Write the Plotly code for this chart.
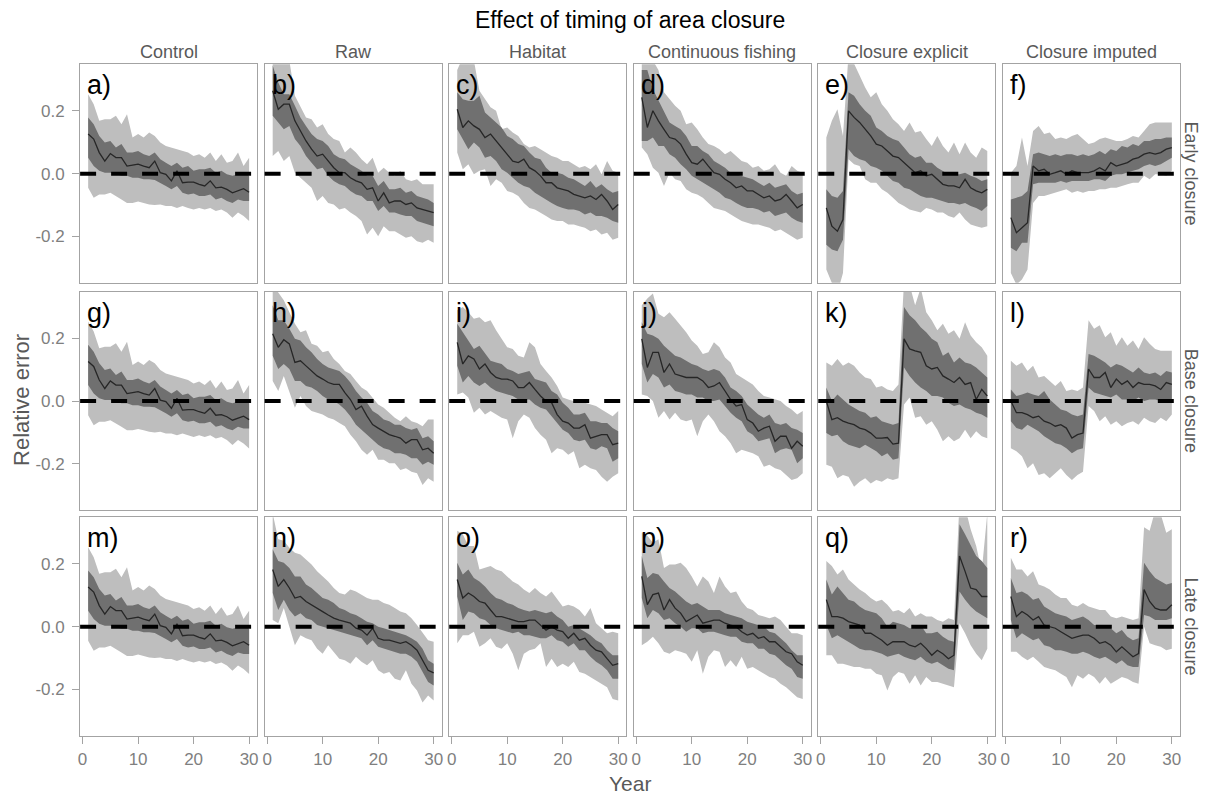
import plotly.graph_objects as go

YEARS = list(range(1, 31))
COLUMNS = ["Control", "Raw", "Habitat", "Continuous fishing", "Closure explicit", "Closure imputed"]
ROWS = ["Early closure", "Base closure", "Late closure"]
LETTERS = list("abcdefghijklmnopqr")
Y_TICKVALS = [-0.2, 0.0, 0.2]
Y_TICKTEXT = ["-0.2", "0.0", "0.2"]
X_TICKVALS = [0, 10, 20, 30]
X_TICKTEXT = ["0", "10", "20", "30"]

# ---------------- Control (identical in all three timings) ----------------
a_med = [0.126,0.110,0.067,0.040,0.064,0.051,0.051,0.024,0.027,0.030,0.024,0.019,0.040,0.003,-0.002,-0.023,0.009,-0.029,-0.027,-0.027,-0.034,-0.039,-0.023,-0.045,-0.043,-0.050,-0.061,-0.055,-0.048,-0.059]
a_in_hi = [0.179,0.157,0.120,0.099,0.104,0.083,0.094,0.067,0.067,0.072,0.062,0.056,0.067,0.046,0.035,0.024,0.035,0.019,0.024,0.009,0.014,0.014,0.019,0.003,0.009,-0.002,-0.007,-0.002,0.003,-0.007]
a_in_lo = [0.051,0.024,0.009,0.003,0.003,-0.002,-0.007,-0.007,-0.013,-0.013,-0.018,-0.018,-0.020,-0.029,-0.039,-0.050,-0.039,-0.061,-0.066,-0.063,-0.071,-0.071,-0.066,-0.082,-0.077,-0.087,-0.093,-0.082,-0.087,-0.087]
a_out_hi = [0.253,0.221,0.168,0.173,0.173,0.184,0.157,0.189,0.115,0.126,0.115,0.131,0.120,0.099,0.088,0.083,0.078,0.072,0.067,0.056,0.062,0.051,0.067,0.040,0.062,0.035,0.040,0.067,0.024,0.051]
a_out_lo = [-0.045,-0.077,-0.066,-0.066,-0.061,-0.071,-0.082,-0.093,-0.093,-0.089,-0.093,-0.098,-0.100,-0.098,-0.103,-0.103,-0.109,-0.103,-0.109,-0.114,-0.109,-0.114,-0.109,-0.119,-0.114,-0.124,-0.140,-0.124,-0.135,-0.151]

# ---------------- Early closure ----------------
b_med = [0.264,0.205,0.221,0.221,0.168,0.136,0.104,0.078,0.056,0.062,0.040,0.019,0.003,0.003,-0.013,-0.023,-0.029,-0.050,-0.045,-0.087,-0.061,-0.093,-0.087,-0.087,-0.098,-0.093,-0.109,-0.114,-0.119,-0.124]
b_in_hi = [0.344,0.290,0.253,0.253,0.216,0.179,0.152,0.126,0.110,0.104,0.088,0.062,0.051,0.046,0.030,0.019,0.009,-0.007,-0.007,-0.039,-0.023,-0.050,-0.050,-0.045,-0.061,-0.055,-0.071,-0.077,-0.082,-0.093]
b_in_lo = [0.184,0.163,0.141,0.152,0.110,0.088,0.056,0.035,0.014,0.019,-0.007,-0.023,-0.034,-0.039,-0.055,-0.066,-0.071,-0.087,-0.087,-0.119,-0.103,-0.124,-0.124,-0.130,-0.135,-0.135,-0.151,-0.156,-0.162,-0.167]
b_out_hi = [0.420,0.400,0.370,0.360,0.248,0.211,0.179,0.173,0.147,0.157,0.126,0.110,0.104,0.067,0.083,0.067,0.046,0.030,0.051,0.003,0.019,0.003,-0.007,0.009,-0.018,-0.023,-0.018,-0.034,-0.034,-0.034]
b_out_lo = [0.056,0.072,0.040,0.056,0.003,-0.013,-0.029,-0.045,-0.087,-0.071,-0.093,-0.098,-0.114,-0.109,-0.124,-0.135,-0.151,-0.194,-0.172,-0.199,-0.167,-0.183,-0.183,-0.194,-0.204,-0.199,-0.215,-0.220,-0.210,-0.220]

c_med = [0.205,0.147,0.168,0.152,0.141,0.115,0.126,0.104,0.083,0.062,0.040,0.035,0.046,0.019,0.009,-0.007,-0.029,-0.029,-0.045,-0.050,-0.055,-0.066,-0.071,-0.077,-0.071,-0.082,-0.066,-0.087,-0.114,-0.098]
c_in_hi = [0.259,0.237,0.232,0.232,0.248,0.195,0.179,0.163,0.147,0.120,0.110,0.094,0.088,0.067,0.051,0.046,0.019,0.003,0.003,-0.002,-0.013,-0.018,-0.029,-0.039,-0.023,-0.045,-0.034,-0.050,-0.061,-0.055]
c_in_lo = [0.141,0.110,0.078,0.099,0.083,0.051,0.056,0.040,0.014,0.003,-0.013,-0.029,-0.039,-0.045,-0.061,-0.071,-0.082,-0.093,-0.103,-0.109,-0.114,-0.114,-0.119,-0.130,-0.124,-0.135,-0.135,-0.140,-0.151,-0.156]
c_out_hi = [0.330,0.370,0.380,0.360,0.264,0.237,0.211,0.200,0.141,0.147,0.131,0.120,0.094,0.083,0.088,0.078,0.067,0.056,0.051,0.040,0.040,0.030,0.019,0.024,0.014,0.030,-0.002,0.040,0.009,0.003]
c_out_lo = [0.067,0.014,0.030,-0.002,0.009,0.014,-0.039,-0.018,-0.029,-0.055,-0.061,-0.071,-0.093,-0.109,-0.114,-0.124,-0.135,-0.146,-0.151,-0.151,-0.162,-0.162,-0.167,-0.172,-0.183,-0.178,-0.194,-0.188,-0.210,-0.204]

d_med = [0.243,0.147,0.200,0.168,0.141,0.115,0.110,0.094,0.062,0.035,0.030,0.046,0.024,0.003,-0.002,-0.018,-0.029,-0.045,-0.039,-0.055,-0.055,-0.066,-0.077,-0.071,-0.087,-0.082,-0.066,-0.087,-0.109,-0.098]
d_in_hi = [0.330,0.330,0.269,0.232,0.195,0.163,0.152,0.141,0.120,0.088,0.088,0.072,0.062,0.040,0.030,0.019,0.003,-0.002,-0.007,-0.013,-0.018,-0.029,-0.039,-0.029,-0.045,-0.039,-0.034,-0.055,-0.066,-0.061]
d_in_lo = [0.104,0.104,0.115,0.088,0.088,0.062,0.051,0.030,0.014,-0.007,-0.018,-0.029,-0.039,-0.050,-0.061,-0.077,-0.082,-0.093,-0.103,-0.109,-0.109,-0.114,-0.124,-0.119,-0.135,-0.130,-0.124,-0.140,-0.151,-0.156]
d_out_hi = [0.360,0.370,0.360,0.330,0.259,0.237,0.216,0.200,0.157,0.163,0.141,0.115,0.094,0.088,0.078,0.062,0.072,0.056,0.040,0.035,0.019,0.024,0.009,0.014,0.030,0.003,-0.007,0.024,0.009,0.003]
d_out_lo = [0.083,0.062,0.019,0.003,-0.039,0.003,-0.018,-0.023,-0.050,-0.061,-0.066,-0.077,-0.093,-0.109,-0.114,-0.119,-0.130,-0.140,-0.151,-0.156,-0.162,-0.162,-0.167,-0.172,-0.183,-0.178,-0.188,-0.199,-0.210,-0.204]

e_med = [-0.109,-0.167,-0.183,-0.146,0.200,0.179,0.163,0.141,0.120,0.094,0.088,0.072,0.056,0.051,0.035,0.019,0.003,0.009,-0.007,-0.002,-0.018,-0.034,-0.039,-0.039,-0.045,-0.018,-0.045,-0.055,-0.061,-0.050]
e_in_hi = [-0.050,-0.071,-0.077,-0.055,0.259,0.248,0.221,0.200,0.184,0.147,0.136,0.120,0.110,0.104,0.083,0.062,0.051,0.056,0.035,0.035,0.019,0.009,-0.002,-0.002,-0.002,0.003,-0.007,-0.013,-0.023,-0.018]
e_in_lo = [-0.226,-0.241,-0.247,-0.210,0.078,0.056,0.046,0.040,0.024,0.019,0.009,-0.007,-0.023,-0.029,-0.045,-0.050,-0.061,-0.071,-0.077,-0.077,-0.082,-0.087,-0.093,-0.093,-0.098,-0.093,-0.103,-0.109,-0.119,-0.103]
e_out_hi = [0.115,0.168,0.205,0.120,0.380,0.350,0.312,0.274,0.243,0.259,0.221,0.200,0.173,0.157,0.136,0.163,0.131,0.136,0.110,0.088,0.120,0.088,0.067,0.099,0.062,0.099,0.067,0.051,0.083,0.072]
e_out_lo = [-0.305,-0.348,-0.380,-0.316,0.046,0.030,0.024,-0.018,-0.029,-0.029,-0.050,-0.061,-0.077,-0.093,-0.103,-0.114,-0.119,-0.124,-0.109,-0.114,-0.124,-0.124,-0.135,-0.140,-0.124,-0.146,-0.162,-0.167,-0.172,-0.167]

f_med = [-0.140,-0.188,-0.172,-0.156,0.024,0.009,0.014,-0.002,0.003,0.009,-0.002,0.009,0.003,0.003,0.003,0.009,0.019,0.009,0.035,0.024,0.030,0.035,0.046,0.051,0.062,0.067,0.062,0.067,0.078,0.083]
f_in_hi = [-0.082,-0.077,-0.071,-0.055,0.062,0.067,0.062,0.056,0.062,0.056,0.062,0.062,0.056,0.062,0.056,0.062,0.072,0.062,0.078,0.072,0.088,0.083,0.094,0.088,0.104,0.104,0.110,0.110,0.115,0.115]
f_in_lo = [-0.236,-0.247,-0.220,-0.220,-0.034,-0.029,-0.029,-0.029,-0.029,-0.023,-0.029,-0.023,-0.023,-0.023,-0.023,-0.018,-0.018,-0.023,-0.007,-0.002,-0.002,0.003,0.009,0.014,0.024,0.030,0.024,0.030,0.040,0.051]
f_out_hi = [0.003,0.024,0.115,0.024,0.136,0.152,0.126,0.131,0.110,0.115,0.110,0.120,0.126,0.110,0.094,0.099,0.110,0.115,0.110,0.104,0.104,0.110,0.120,0.115,0.136,0.157,0.163,0.163,0.163,0.163]
f_out_lo = [-0.316,-0.353,-0.337,-0.305,-0.093,-0.071,-0.071,-0.066,-0.061,-0.055,-0.050,-0.061,-0.055,-0.061,-0.055,-0.055,-0.050,-0.050,-0.045,-0.045,-0.039,-0.034,-0.029,-0.029,-0.007,-0.018,-0.002,-0.002,-0.007,0.009]

# ---------------- Base closure ----------------
h_med = [0.214,0.171,0.195,0.182,0.123,0.128,0.112,0.096,0.080,0.070,0.059,0.053,0.053,0.027,0.005,-0.027,-0.016,-0.048,-0.075,-0.086,-0.096,-0.107,-0.112,-0.118,-0.134,-0.123,-0.123,-0.155,-0.150,-0.166]
h_in_hi = [0.305,0.257,0.257,0.230,0.198,0.193,0.171,0.155,0.134,0.118,0.107,0.102,0.096,0.080,0.059,0.032,0.011,-0.005,-0.032,-0.043,-0.059,-0.064,-0.075,-0.075,-0.086,-0.091,-0.086,-0.118,-0.112,-0.128]
h_in_lo = [0.144,0.102,0.118,0.102,0.064,0.064,0.048,0.043,0.032,0.016,0.005,0.000,-0.011,-0.027,-0.048,-0.075,-0.091,-0.107,-0.123,-0.139,-0.150,-0.155,-0.166,-0.166,-0.171,-0.182,-0.182,-0.203,-0.193,-0.203]
h_out_hi = [0.370,0.345,0.321,0.283,0.246,0.219,0.225,0.182,0.176,0.155,0.160,0.134,0.118,0.096,0.086,0.064,0.043,0.032,0.011,-0.011,-0.021,-0.037,-0.053,-0.064,-0.048,-0.064,-0.070,-0.080,-0.059,-0.059]
h_out_lo = [0.064,0.032,0.080,0.027,-0.021,0.016,-0.016,-0.032,-0.037,-0.043,-0.053,-0.059,-0.070,-0.080,-0.107,-0.128,-0.155,-0.171,-0.155,-0.187,-0.187,-0.198,-0.198,-0.219,-0.214,-0.225,-0.230,-0.267,-0.246,-0.257]

i_med = [0.187,0.118,0.144,0.134,0.102,0.118,0.091,0.075,0.070,0.070,0.064,0.043,0.043,0.059,0.037,0.016,0.000,-0.005,-0.043,-0.064,-0.070,-0.086,-0.086,-0.075,-0.118,-0.112,-0.107,-0.107,-0.139,-0.134]
i_in_hi = [0.246,0.219,0.193,0.166,0.176,0.150,0.128,0.123,0.118,0.102,0.096,0.086,0.091,0.096,0.070,0.064,0.059,0.032,0.021,-0.005,-0.021,-0.043,-0.043,-0.037,-0.064,-0.064,-0.070,-0.070,-0.086,-0.096]
i_in_lo = [0.112,0.059,0.080,0.059,0.048,0.059,0.043,0.032,0.027,0.021,0.016,0.005,0.005,0.005,-0.011,-0.021,-0.027,-0.048,-0.070,-0.091,-0.102,-0.123,-0.128,-0.123,-0.150,-0.155,-0.144,-0.150,-0.193,-0.182]
i_out_hi = [0.289,0.299,0.283,0.262,0.267,0.251,0.257,0.225,0.198,0.171,0.166,0.144,0.139,0.187,0.171,0.118,0.096,0.075,0.048,0.011,0.005,0.000,-0.005,-0.005,-0.011,-0.016,-0.027,-0.037,-0.048,-0.032]
i_out_lo = [0.021,0.027,0.011,-0.037,-0.021,-0.043,-0.032,-0.043,-0.053,-0.059,-0.118,-0.064,-0.043,-0.053,-0.086,-0.107,-0.123,-0.166,-0.150,-0.155,-0.171,-0.160,-0.214,-0.203,-0.214,-0.219,-0.241,-0.257,-0.241,-0.230]

j_med = [0.198,0.107,0.155,0.155,0.091,0.118,0.086,0.080,0.075,0.075,0.075,0.064,0.043,0.048,0.059,0.032,0.005,-0.016,-0.011,-0.059,-0.070,-0.096,-0.086,-0.080,-0.128,-0.112,-0.112,-0.150,-0.128,-0.144]
j_in_hi = [0.251,0.214,0.209,0.198,0.176,0.160,0.144,0.139,0.128,0.118,0.112,0.102,0.096,0.102,0.096,0.075,0.043,0.032,0.016,-0.011,-0.027,-0.043,-0.053,-0.043,-0.070,-0.075,-0.070,-0.086,-0.091,-0.102]
j_in_lo = [0.118,0.059,0.086,0.075,0.043,0.053,0.032,0.027,0.021,0.021,0.011,0.011,0.000,0.000,0.005,-0.016,-0.037,-0.053,-0.064,-0.096,-0.107,-0.128,-0.123,-0.118,-0.166,-0.155,-0.150,-0.155,-0.198,-0.182]
j_out_hi = [0.305,0.326,0.342,0.278,0.267,0.283,0.262,0.241,0.219,0.193,0.176,0.150,0.155,0.187,0.171,0.139,0.123,0.086,0.075,0.064,0.053,0.032,0.016,0.011,0.005,0.000,-0.016,-0.027,-0.043,-0.032]
j_out_lo = [0.021,0.016,0.000,-0.053,-0.032,-0.059,-0.037,-0.059,-0.064,-0.059,-0.112,-0.064,-0.043,-0.064,-0.096,-0.112,-0.134,-0.166,-0.155,-0.160,-0.166,-0.176,-0.209,-0.203,-0.214,-0.219,-0.235,-0.251,-0.246,-0.230]

k_med = [0.000,-0.059,-0.053,-0.064,-0.070,-0.075,-0.086,-0.091,-0.102,-0.118,-0.118,-0.116,-0.137,-0.134,0.198,0.166,0.160,0.155,0.112,0.102,0.107,0.080,0.070,0.059,0.075,0.053,0.059,0.005,0.037,0.016]
k_in_hi = [0.043,0.000,0.021,0.005,-0.011,-0.021,-0.032,-0.037,-0.053,-0.048,-0.064,-0.070,-0.075,-0.070,0.299,0.273,0.257,0.235,0.219,0.198,0.187,0.144,0.155,0.123,0.139,0.123,0.118,0.107,0.091,0.075]
k_in_lo = [-0.102,-0.112,-0.107,-0.128,-0.139,-0.144,-0.150,-0.139,-0.150,-0.160,-0.176,-0.166,-0.187,-0.182,0.107,0.080,0.059,0.043,0.032,0.016,0.016,0.011,-0.005,-0.016,-0.011,-0.021,-0.027,-0.037,-0.043,-0.053]
k_out_hi = [0.123,0.112,0.134,0.112,0.123,0.112,0.091,0.075,0.070,0.043,0.048,0.037,0.032,0.053,0.380,0.370,0.305,0.360,0.283,0.257,0.225,0.246,0.214,0.225,0.198,0.251,0.209,0.187,0.171,0.144]
k_out_lo = [-0.203,-0.209,-0.246,-0.235,-0.241,-0.273,-0.257,-0.246,-0.262,-0.251,-0.257,-0.246,-0.251,-0.246,-0.011,0.011,-0.053,-0.048,-0.075,-0.064,-0.091,-0.128,-0.112,-0.128,-0.118,-0.091,-0.118,-0.096,-0.112,-0.118]

l_med = [0.000,-0.037,-0.037,-0.043,-0.053,-0.048,-0.064,-0.070,-0.080,-0.075,-0.086,-0.118,-0.107,-0.102,0.102,0.075,0.075,0.091,0.043,0.070,0.053,0.064,0.043,0.059,0.053,0.053,0.048,0.037,0.059,0.053]
l_in_hi = [0.037,0.016,0.021,0.027,0.021,0.016,0.032,0.005,-0.011,-0.027,-0.032,-0.043,-0.048,-0.043,0.150,0.144,0.134,0.123,0.107,0.118,0.112,0.102,0.091,0.107,0.091,0.086,0.091,0.080,0.096,0.091]
l_in_lo = [-0.064,-0.086,-0.091,-0.075,-0.086,-0.096,-0.112,-0.123,-0.134,-0.139,-0.150,-0.166,-0.155,-0.150,0.043,0.027,0.021,0.016,0.011,0.021,0.005,0.005,0.000,0.011,0.000,0.005,0.005,0.000,0.005,0.000]
l_out_hi = [0.128,0.112,0.123,0.096,0.112,0.075,0.080,0.064,0.048,0.064,0.032,0.037,0.032,0.043,0.257,0.230,0.241,0.203,0.219,0.176,0.203,0.176,0.193,0.166,0.203,0.182,0.166,0.160,0.160,0.160]
l_out_lo = [-0.150,-0.160,-0.176,-0.214,-0.198,-0.235,-0.230,-0.246,-0.230,-0.214,-0.235,-0.251,-0.235,-0.225,-0.016,-0.032,-0.064,-0.048,-0.075,-0.064,-0.080,-0.070,-0.064,-0.075,-0.053,-0.064,-0.070,-0.053,-0.064,-0.043]

# ---------------- Late closure ----------------
n_med = [0.182,0.128,0.150,0.123,0.091,0.096,0.080,0.070,0.059,0.048,0.037,0.027,0.021,0.016,0.011,-0.005,-0.011,-0.027,-0.005,-0.037,-0.043,-0.043,-0.048,-0.053,-0.048,-0.059,-0.075,-0.107,-0.139,-0.147]
n_in_hi = [0.246,0.209,0.203,0.187,0.160,0.160,0.134,0.123,0.107,0.091,0.086,0.075,0.059,0.053,0.043,0.037,0.027,0.016,0.011,0.000,-0.005,-0.011,-0.016,-0.021,-0.027,-0.037,-0.048,-0.070,-0.107,-0.118]
n_in_lo = [0.107,0.053,0.086,0.053,0.032,0.043,0.027,0.021,0.005,0.000,-0.005,-0.011,-0.016,-0.021,-0.027,-0.032,-0.037,-0.059,-0.043,-0.064,-0.070,-0.075,-0.080,-0.086,-0.086,-0.096,-0.112,-0.144,-0.176,-0.187]
n_out_hi = [0.360,0.278,0.273,0.251,0.235,0.230,0.214,0.198,0.176,0.160,0.144,0.123,0.107,0.102,0.118,0.112,0.102,0.091,0.086,0.086,0.075,0.070,0.059,0.048,0.043,0.027,0.005,-0.021,-0.043,-0.048]
n_out_lo = [0.021,0.011,0.059,0.000,-0.059,-0.027,-0.037,-0.043,-0.070,-0.086,-0.059,-0.080,-0.102,-0.107,-0.118,-0.096,-0.112,-0.123,-0.107,-0.139,-0.150,-0.144,-0.166,-0.171,-0.139,-0.182,-0.203,-0.241,-0.219,-0.235]

o_med = [0.150,0.091,0.107,0.096,0.080,0.075,0.053,0.032,0.032,0.027,0.021,0.016,0.016,0.021,0.021,0.005,-0.011,0.000,-0.011,-0.016,-0.037,-0.021,-0.043,-0.037,-0.059,-0.075,-0.080,-0.102,-0.123,-0.118]
o_in_hi = [0.203,0.166,0.182,0.155,0.144,0.128,0.107,0.091,0.086,0.075,0.070,0.059,0.053,0.048,0.053,0.048,0.043,0.048,0.032,0.021,0.000,0.005,-0.005,-0.016,-0.027,-0.043,-0.053,-0.075,-0.091,-0.091]
o_in_lo = [0.096,0.021,0.048,0.043,0.027,0.021,0.005,-0.005,-0.011,-0.016,-0.021,-0.016,-0.027,-0.027,-0.032,-0.037,-0.037,-0.027,-0.043,-0.048,-0.064,-0.053,-0.075,-0.075,-0.096,-0.112,-0.123,-0.139,-0.166,-0.166]
o_out_hi = [0.305,0.294,0.257,0.257,0.182,0.187,0.193,0.182,0.176,0.160,0.144,0.134,0.118,0.107,0.123,0.107,0.096,0.112,0.086,0.064,0.070,0.064,0.053,0.032,0.059,0.011,-0.005,-0.021,-0.016,-0.021]
o_out_lo = [-0.053,-0.027,-0.027,-0.016,-0.064,-0.053,-0.037,-0.064,-0.070,-0.053,-0.086,-0.139,-0.086,-0.075,-0.070,-0.053,-0.128,-0.102,-0.128,-0.118,-0.128,-0.112,-0.144,-0.150,-0.160,-0.171,-0.182,-0.193,-0.230,-0.235]

p_med = [0.160,0.070,0.102,0.107,0.053,0.086,0.059,0.043,0.016,0.027,0.037,0.011,0.016,0.021,0.021,0.011,0.005,0.000,-0.016,-0.027,-0.021,-0.037,-0.032,-0.048,-0.048,-0.064,-0.080,-0.086,-0.112,-0.123]
p_in_hi = [0.225,0.155,0.171,0.166,0.144,0.123,0.112,0.096,0.080,0.070,0.075,0.064,0.053,0.053,0.053,0.043,0.037,0.032,0.027,0.016,0.011,0.005,0.000,-0.016,-0.021,-0.037,-0.053,-0.075,-0.091,-0.091]
p_in_lo = [0.091,0.027,0.053,0.043,0.021,0.027,0.011,0.000,-0.016,-0.005,-0.005,-0.021,-0.016,-0.016,-0.021,-0.027,-0.032,-0.032,-0.048,-0.053,-0.053,-0.070,-0.070,-0.086,-0.091,-0.107,-0.123,-0.134,-0.160,-0.166]
p_out_hi = [0.299,0.289,0.267,0.278,0.187,0.198,0.198,0.203,0.187,0.160,0.128,0.160,0.144,0.107,0.160,0.128,0.107,0.112,0.080,0.059,0.053,0.037,0.032,0.027,0.032,0.021,0.000,-0.021,-0.021,-0.027]
p_out_lo = [-0.059,-0.048,-0.032,-0.053,-0.080,-0.086,-0.075,-0.080,-0.086,-0.112,-0.075,-0.150,-0.096,-0.075,-0.080,-0.128,-0.107,-0.128,-0.096,-0.134,-0.128,-0.139,-0.150,-0.160,-0.166,-0.182,-0.193,-0.209,-0.225,-0.230]

q_med = [0.086,0.032,0.032,0.027,0.016,0.011,0.005,-0.021,-0.021,-0.032,-0.043,-0.059,-0.048,-0.048,-0.048,-0.059,-0.064,-0.053,-0.070,-0.091,-0.075,-0.086,-0.102,-0.091,0.225,0.176,0.123,0.118,0.096,0.096]
q_in_hi = [0.150,0.102,0.128,0.107,0.086,0.080,0.064,0.053,0.048,0.043,0.027,0.000,0.016,0.011,0.005,-0.005,-0.005,0.005,-0.021,-0.021,-0.016,-0.032,-0.043,-0.048,0.326,0.294,0.257,0.225,0.209,0.187]
q_in_lo = [0.005,-0.037,-0.027,-0.037,-0.048,-0.059,-0.070,-0.075,-0.075,-0.080,-0.086,-0.096,-0.091,-0.086,-0.096,-0.102,-0.107,-0.096,-0.112,-0.118,-0.112,-0.123,-0.134,-0.139,0.112,0.086,0.064,0.048,0.037,0.027]
q_out_hi = [0.209,0.193,0.166,0.182,0.150,0.134,0.118,0.107,0.091,0.080,0.086,0.070,0.048,0.053,0.043,0.059,0.032,0.043,0.032,0.032,0.021,0.016,0.027,0.021,0.400,0.380,0.310,0.257,0.176,0.360]
q_out_lo = [-0.091,-0.091,-0.118,-0.118,-0.123,-0.128,-0.128,-0.134,-0.134,-0.150,-0.155,-0.203,-0.160,-0.144,-0.150,-0.182,-0.155,-0.187,-0.160,-0.176,-0.176,-0.182,-0.187,-0.193,0.011,-0.021,-0.059,-0.086,-0.107,-0.070]

r_med = [0.096,0.032,0.048,0.037,0.021,0.032,0.005,0.000,-0.005,-0.016,-0.027,-0.037,-0.032,-0.027,-0.027,-0.037,-0.053,-0.048,-0.059,-0.080,-0.064,-0.080,-0.096,-0.086,0.118,0.080,0.059,0.053,0.053,0.070]
r_in_hi = [0.155,0.107,0.112,0.102,0.086,0.091,0.064,0.053,0.043,0.037,0.032,0.021,0.027,0.032,0.021,0.005,0.005,0.005,-0.005,-0.021,-0.011,-0.032,-0.043,-0.037,0.203,0.176,0.155,0.144,0.134,0.139]
r_in_lo = [0.021,-0.037,-0.021,-0.032,-0.043,-0.037,-0.059,-0.064,-0.075,-0.075,-0.080,-0.086,-0.086,-0.080,-0.086,-0.096,-0.102,-0.096,-0.107,-0.118,-0.107,-0.123,-0.128,-0.128,0.037,0.032,0.021,0.021,0.021,0.027]
r_out_hi = [0.219,0.182,0.182,0.160,0.176,0.134,0.128,0.118,0.102,0.091,0.091,0.070,0.064,0.075,0.064,0.059,0.053,0.053,0.032,0.027,0.032,0.027,0.021,0.027,0.316,0.305,0.370,0.358,0.299,0.310]
r_out_lo = [-0.080,-0.080,-0.096,-0.107,-0.096,-0.112,-0.128,-0.134,-0.139,-0.150,-0.160,-0.193,-0.155,-0.166,-0.150,-0.160,-0.182,-0.160,-0.182,-0.171,-0.160,-0.166,-0.176,-0.182,0.000,-0.053,-0.059,-0.064,-0.075,-0.070]

PANEL_DATA = [
    (a_med, a_in_lo, a_in_hi, a_out_lo, a_out_hi),
    (b_med, b_in_lo, b_in_hi, b_out_lo, b_out_hi),
    (c_med, c_in_lo, c_in_hi, c_out_lo, c_out_hi),
    (d_med, d_in_lo, d_in_hi, d_out_lo, d_out_hi),
    (e_med, e_in_lo, e_in_hi, e_out_lo, e_out_hi),
    (f_med, f_in_lo, f_in_hi, f_out_lo, f_out_hi),
    (a_med, a_in_lo, a_in_hi, a_out_lo, a_out_hi),
    (h_med, h_in_lo, h_in_hi, h_out_lo, h_out_hi),
    (i_med, i_in_lo, i_in_hi, i_out_lo, i_out_hi),
    (j_med, j_in_lo, j_in_hi, j_out_lo, j_out_hi),
    (k_med, k_in_lo, k_in_hi, k_out_lo, k_out_hi),
    (l_med, l_in_lo, l_in_hi, l_out_lo, l_out_hi),
    (a_med, a_in_lo, a_in_hi, a_out_lo, a_out_hi),
    (n_med, n_in_lo, n_in_hi, n_out_lo, n_out_hi),
    (o_med, o_in_lo, o_in_hi, o_out_lo, o_out_hi),
    (p_med, p_in_lo, p_in_hi, p_out_lo, p_out_hi),
    (q_med, q_in_lo, q_in_hi, q_out_lo, q_out_hi),
    (r_med, r_in_lo, r_in_hi, r_out_lo, r_out_hi),
]

# ---------------- styling / layout ----------------
W, H = 1211, 794
FONT = "Liberation Sans, Arial, sans-serif"
LIGHT = "#bebebe"
DARK = "#707070"
MEDIAN = "#262626"
BORDER = "#a3a3a3"
GRAYTXT = "#7f7f7f"
STRIPTXT = "#595959"

COL_LEFT_PX = [78.3 + 185.0 * c for c in range(6)]
PANEL_W_PX = 177.5
ROW_TOP_PX = [64.3, 291.7, 517.3]
PANEL_H_PX = 218.4
XR = [-0.45, 31.45]
YR = [-0.347, 0.348]

fig = go.Figure()
layout = dict(
    width=W, height=H, margin=dict(l=0, r=0, t=0, b=0),
    paper_bgcolor="white", plot_bgcolor="white", showlegend=False,
    font=dict(family=FONT, color=GRAYTXT),
)
annotations = []
shapes = []

for idx, (med, in_lo, in_hi, out_lo, out_hi) in enumerate(PANEL_DATA):
    r, c = divmod(idx, 6)
    k = idx + 1
    xa = "x" if k == 1 else f"x{k}"
    ya = "y" if k == 1 else f"y{k}"
    xkey = "xaxis" if k == 1 else f"xaxis{k}"
    ykey = "yaxis" if k == 1 else f"yaxis{k}"

    x0 = COL_LEFT_PX[c] / W
    x1 = (COL_LEFT_PX[c] + PANEL_W_PX) / W
    y1 = 1 - ROW_TOP_PX[r] / H
    y0 = 1 - (ROW_TOP_PX[r] + PANEL_H_PX) / H

    poly_x = YEARS + YEARS[::-1]
    fig.add_trace(go.Scatter(x=poly_x, y=out_hi + out_lo[::-1], fill="toself", mode="lines",
                             fillcolor=LIGHT, line=dict(width=0, color=LIGHT),
                             xaxis=xa, yaxis=ya, hoverinfo="skip"))
    fig.add_trace(go.Scatter(x=poly_x, y=in_hi + in_lo[::-1], fill="toself", mode="lines",
                             fillcolor=DARK, line=dict(width=0, color=DARK),
                             xaxis=xa, yaxis=ya, hoverinfo="skip"))
    fig.add_trace(go.Scatter(x=YEARS, y=med, mode="lines", line=dict(width=1.3, color=MEDIAN),
                             xaxis=xa, yaxis=ya, hoverinfo="skip"))

    bottom = (r == 2)
    left = (c == 0)
    layout[xkey] = dict(
        domain=[x0, x1], range=XR, anchor=ya, showgrid=False, zeroline=False,
        showline=True, mirror=True, linecolor=BORDER, linewidth=1,
        tickmode="array", tickvals=X_TICKVALS, ticktext=X_TICKTEXT,
        showticklabels=bottom, ticks="outside" if bottom else "",
        ticklen=7, tickcolor=BORDER, tickfont=dict(size=17, color=GRAYTXT),
        ticklabelstandoff=1,
    )
    layout[ykey] = dict(
        domain=[y0, y1], range=YR, anchor=xa, showgrid=False, zeroline=False,
        showline=True, mirror=True, linecolor=BORDER, linewidth=1,
        tickmode="array", tickvals=Y_TICKVALS, ticktext=Y_TICKTEXT,
        showticklabels=left, ticks="outside" if left else "",
        ticklen=7, tickcolor=BORDER, tickfont=dict(size=17, color=GRAYTXT),
        ticklabelstandoff=4,
    )

    shapes.append(dict(type="line", xref=f"{xa} domain", yref=ya, x0=0, x1=1, y0=0, y1=0,
                       line=dict(color="black", width=4, dash="16px,15px"), layer="above"))

    annotations.append(dict(text=LETTERS[idx] + ")", xref="paper", yref="paper",
                            x=(COL_LEFT_PX[c] + 5) / W, y=1 - (ROW_TOP_PX[r] + 21) / H,
                            xanchor="left", yanchor="middle", showarrow=False,
                            font=dict(size=27, color="black", family=FONT)))

for c, name in enumerate(COLUMNS):
    annotations.append(dict(text=name, xref="paper", yref="paper",
                            x=(COL_LEFT_PX[c] + PANEL_W_PX / 2) / W, y=1 - 52 / H,
                            xanchor="center", yanchor="middle", showarrow=False,
                            font=dict(size=18, color=STRIPTXT, family=FONT)))
for r, name in enumerate(ROWS):
    annotations.append(dict(text=name, xref="paper", yref="paper",
                            x=1192 / W, y=1 - (ROW_TOP_PX[r] + PANEL_H_PX / 2) / H,
                            xanchor="center", yanchor="middle", showarrow=False, textangle=90,
                            font=dict(size=18, color=STRIPTXT, family=FONT)))

annotations.append(dict(text="Effect of timing of area closure", xref="paper", yref="paper",
                        x=630 / W, y=1 - 20 / H, xanchor="center", yanchor="middle", showarrow=False,
                        font=dict(size=23, color="black", family=FONT)))
annotations.append(dict(text="Relative error", xref="paper", yref="paper",
                        x=19 / W, y=1 - 400 / H, xanchor="center", yanchor="middle", showarrow=False,
                        textangle=-90, font=dict(size=22, color=STRIPTXT, family=FONT)))
annotations.append(dict(text="Year", xref="paper", yref="paper",
                        x=630 / W, y=1 - 783 / H, xanchor="center", yanchor="middle", showarrow=False,
                        font=dict(size=21, color=STRIPTXT, family=FONT)))

layout["annotations"] = annotations
layout["shapes"] = shapes
fig.update_layout(**layout)
fig.write_html("out.html")
